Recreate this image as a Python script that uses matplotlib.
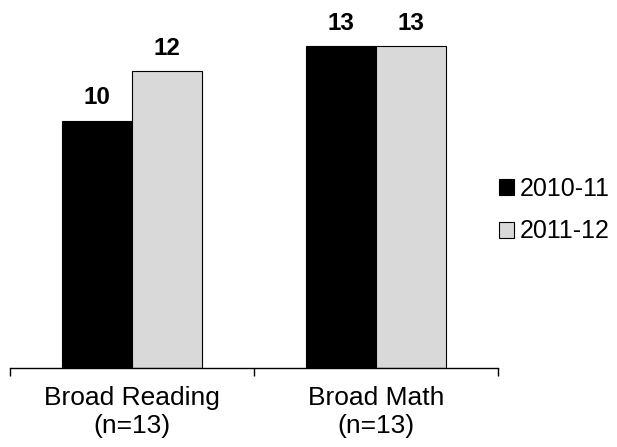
import matplotlib.pyplot as plt
import numpy as np

plt.rcParams['font.family'] = ['Liberation Sans', 'DejaVu Sans']

categories = ['Broad Reading\n(n=13)', 'Broad Math\n(n=13)']
years = ['2010-11', '2011-12']
counts_2010 = [10, 13]
counts_2011 = [12, 13]
colors = ['#000000', '#D9D9D9']

fig = plt.figure(figsize=(6.17, 4.47), dpi=100)
ax = fig.add_axes([10 / 617, 79 / 447, 488 / 617, 346.5 / 447])

x = np.arange(len(categories))
w = 0.285
b1 = ax.bar(x - w / 2, counts_2010, w, color=colors[0], edgecolor='black', linewidth=0.8, label=years[0])
b2 = ax.bar(x + w / 2, counts_2011, w, color=colors[1], edgecolor='black', linewidth=0.8, label=years[1])

for bars in (b1, b2):
    ax.bar_label(bars, padding=8, fontsize=17.5, fontweight='bold')

ax.set_xlim(-0.5, 1.5)
ax.set_ylim(0, 14)
ax.set_xticks(x)
ax.set_xticklabels(categories, fontsize=19, linespacing=1.2)
ax.set_xticks([-0.5, 0.5, 1.5], minor=True)
ax.tick_params(axis='x', which='major', length=0, pad=13)
ax.tick_params(axis='x', which='minor', length=6, width=1, direction='out')
ax.set_yticks([])

for side in ('top', 'right', 'left'):
    ax.spines[side].set_visible(False)
ax.spines['bottom'].set_linewidth(1)

ax.legend(loc='center left', bbox_to_anchor=(487 / 617, 237 / 447), bbox_transform=fig.transFigure,
          frameon=False, fontsize=18, handlelength=0.6, handleheight=0.6, handletextpad=0.2,
          labelspacing=0.75, borderpad=0)

fig.savefig('out.png', dpi=100)
